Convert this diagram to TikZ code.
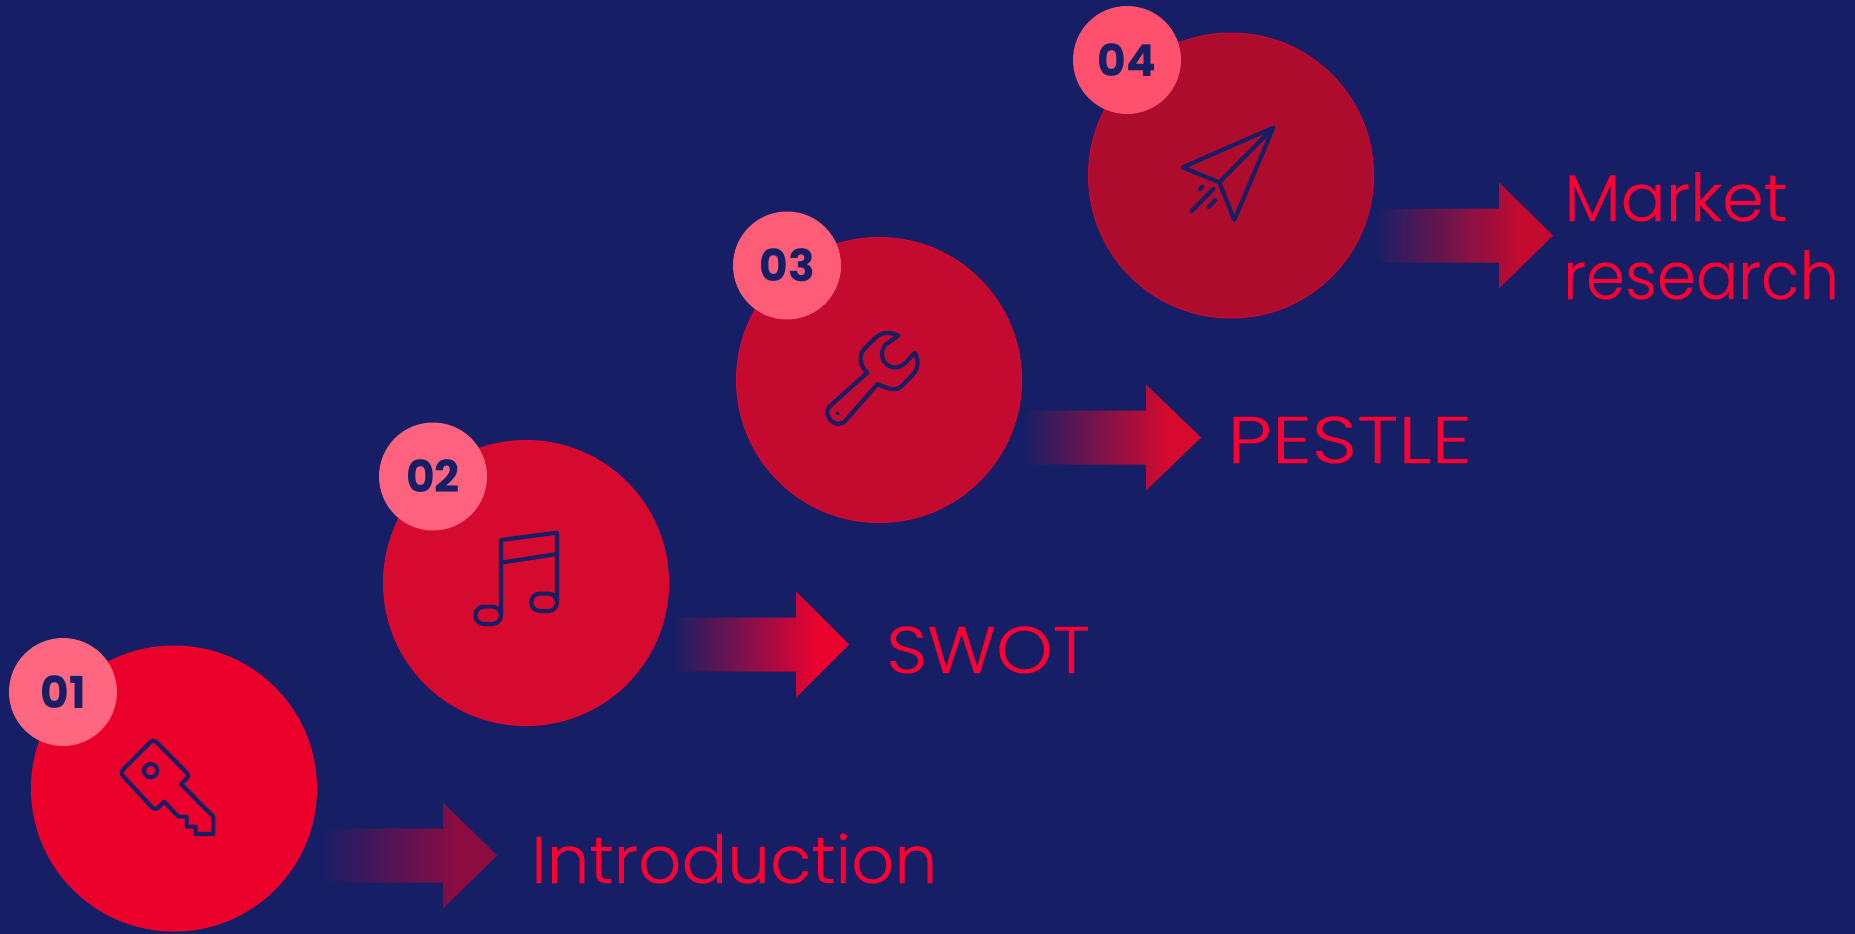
\documentclass[tikz,border=0pt]{standalone}
\usepackage{fontspec}
\usepackage{graphicx}
\newfontfamily\lightf[FakeBold=0.12]{Poppins Light}
\newfontfamily\boldf{Poppins Bold}
\definecolor{bg}{HTML}{161F66}
\definecolor{txt}{HTML}{FF0033}
\definecolor{cA}{HTML}{EB002B}
\definecolor{cB}{HTML}{D6092F}
\definecolor{cC}{HTML}{C40A2F}
\definecolor{cD}{HTML}{AE0C2D}
\definecolor{aA}{HTML}{8C0C42}
\definecolor{aB}{HTML}{EB022F}
\definecolor{aC}{HTML}{D6092F}
\definecolor{aD}{HTML}{C40A2F}
\definecolor{nA}{HTML}{FF6680}
\definecolor{nB}{HTML}{FF627E}
\definecolor{nC}{HTML}{FF5C78}
\definecolor{nD}{HTML}{FF506E}
\pgfdeclarehorizontalshading{shA}{100bp}{color(0bp)=(bg);color(25bp)=(bg);color(64bp)=(aA);color(100bp)=(aA)}
\pgfdeclarehorizontalshading{shB}{100bp}{color(0bp)=(bg);color(25bp)=(bg);color(66bp)=(aB);color(100bp)=(aB)}
\pgfdeclarehorizontalshading{shC}{100bp}{color(0bp)=(bg);color(25bp)=(bg);color(66bp)=(aC);color(100bp)=(aC)}
\pgfdeclarehorizontalshading{shD}{100bp}{color(0bp)=(bg);color(25bp)=(bg);color(66bp)=(aD);color(100bp)=(aD)}
\tikzset{
  bigdisc/.style={circle,minimum size=285pt,inner sep=0pt,outer sep=0pt,fill=#1,draw=txt!35!#1,line width=1pt},
  numdisc/.style={circle,minimum size=108pt,inner sep=0pt,fill=#1,text=bg,font=\boldf\fontsize{44}{44}\selectfont},
  lab/.style={anchor=base west,inner sep=0pt,text=txt,font=\lightf\fontsize{66}{66}\selectfont},
  icon/.style={draw=bg,line width=4.1pt,line join=round,line cap=round},
}
% #1 left, #2 head base, #3 tip, #4 centre y, #5 shading
\newcommand{\fadearrow}[5]{\shade[shading=#5]
  (#1,#4-27) -- (#2,#4-27) -- (#2,#4-53) -- (#3,#4) -- (#2,#4+53) -- (#2,#4+27) -- (#1,#4+27) -- cycle;}
\begin{document}
\begin{tikzpicture}[x=1pt,y=-1pt]
\useasboundingbox (0,0) rectangle (1855,934);
\fill[bg] (0,0) rectangle (1855,934);
% big discs
\node[bigdisc=cA] (d1) at (174,788.5) {};
\node[bigdisc=cB] (d2) at (526,583) {};
\node[bigdisc=cC] (d3) at (879,380) {};
\node[bigdisc=cD] (d4) at (1231,175.5) {};
% arrows
\fadearrow{322}{443}{497}{855.5}{shA}
\fadearrow{672}{796}{849}{644.5}{shB}
\fadearrow{1023}{1146}{1201}{437.5}{shC}
\fadearrow{1374}{1499}{1553}{235.5}{shD}
% number discs
\node[numdisc=nA] (n1) at (63,692) {01};
\node[numdisc=nB] (n2) at (433,476.5) {02};
\node[numdisc=nC] (n3) at (787,265.5) {03};
\node[numdisc=nD] (n4) at (1127,60) {04};
% labels
\node[lab] (l1) at (531,883) {\scalebox{1.025}[1]{Introduction}};
\node[lab] (l2) at (886,673) {\scalebox{1.09}[1]{SWOT}};
\node[lab] (l3) at (1227,463) {\scalebox{1.2}[1]{PESTLE}};
\node[lab] (l4) at (1564,221) {\scalebox{1.014}[1]{Market}};
\node[lab] (l5) at (1563,299) {\scalebox{0.95}[1]{research}};
% key
\begin{scope}[shift={(0,620)},x=0.3333pt,y=-0.3333pt]
\draw[icon] (543,492) -- (555,480) [rounded corners=4pt] -- (570,468) -- (460,357) -- (360,458) -- (465,572) [sharp corners] -- (493,545) -- (535,590) -- (560,590) -- (560,620) -- (587,620) -- (587,642) -- (640,642) -- (640,590) -- cycle;
\draw[icon] (452,452) circle[radius=20];
\end{scope}
% music
\begin{scope}[shift={(370,410)},x=0.3333pt,y=-0.3333pt]
\draw[icon] (393,610) -- (393,390) -- (561,368) -- (561,575);
\draw[icon] (393,458) -- (561,432);
\draw[icon,rounded corners=8.5pt] (316,590) rectangle (393,642);
\draw[icon,rounded corners=8.5pt] (484,551) rectangle (561,603);
\end{scope}
% wrench
\begin{scope}[shift={(720,200)},x=0.3333pt,y=-0.3333pt]
\draw[icon] (535,407) .. controls (510,395) and (485,395) .. (465,415) -- (432,448)
  .. controls (415,468) and (420,498) .. (442,518) -- (328,620)
  .. controls (305,645) and (350,695) .. (378,660) -- (473,552)
  .. controls (505,568) and (527,575) .. (545,558) -- (580,522)
  .. controls (597,503) and (595,480) .. (585,458) -- (555,490)
  .. controls (515,525) and (465,480) .. (495,435) -- cycle;
\fill[bg] (353,640) circle[radius=6];
\end{scope}
% plane
\begin{scope}[shift={(1060,0)},x=0.3333pt,y=-0.3333pt]
\draw[icon] (640,383) -- (368,502) -- (478,547) -- (523,660) -- cycle;
\draw[icon] (478,547) -- (640,383);
\draw[icon] (395,633) -- (460,567);
\draw[icon] (420,568) -- (428,560);
\draw[icon] (446,621) -- (466,600);
\end{scope}
\end{tikzpicture}
\end{document}
